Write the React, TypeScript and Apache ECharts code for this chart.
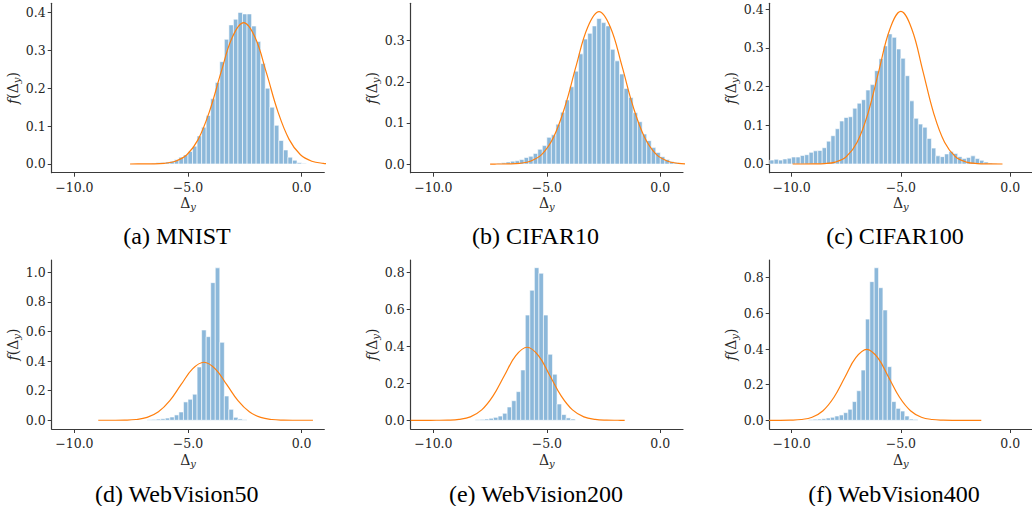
import React, { useEffect, useRef } from "react";
import * as echarts from "echarts";

// ---------------- data ----------------
const BIN_WIDTH = 0.2;

const X_RANGE = [-11, 1];
const X_TICKS = [-10, -5, 0];

// (a) MNIST
const aCenters = [-6.5, -6.3, -6.1, -5.9, -5.7, -5.5, -5.3, -5.1, -4.9, -4.7, -4.5, -4.3, -4.1, -3.9, -3.7, -3.5, -3.3, -3.1, -2.9, -2.7, -2.5, -2.3, -2.1, -1.9, -1.7, -1.5, -1.3, -1.1, -0.9, -0.7, -0.5, -0.3, -0.1, 0.1];
const aValues = [0.002, 0.003, 0.004, 0.005, 0.007, 0.011, 0.018, 0.024, 0.033, 0.047, 0.074, 0.097, 0.128, 0.172, 0.215, 0.27, 0.329, 0.367, 0.382, 0.4, 0.396, 0.396, 0.364, 0.323, 0.265, 0.2, 0.15, 0.102, 0.062, 0.037, 0.018, 0.01, 0.003, 0.001];
const aCurveX = [-7.55, -7.05, -6.55, -6.05, -5.55, -5.05, -4.55, -4.05, -3.55, -3.05, -2.55, -2.05, -1.55, -1.05, -0.55, -0.05, 0.45, 0.95, 1.45];
const aCurveY = [0.0, 0.0001, 0.0003, 0.0018, 0.0073, 0.0243, 0.065, 0.1395, 0.2409, 0.3343, 0.3728, 0.3343, 0.2409, 0.1395, 0.065, 0.0243, 0.0073, 0.0018, 0.0003];
const aYRange = [-0.023, 0.424];
const aYTicks = [0, 0.1, 0.2, 0.3, 0.4];

// (b) CIFAR10
const bCenters = [-7.1, -6.9, -6.7, -6.5, -6.3, -6.1, -5.9, -5.7, -5.5, -5.3, -5.1, -4.9, -4.7, -4.5, -4.3, -4.1, -3.9, -3.7, -3.5, -3.3, -3.1, -2.9, -2.7, -2.5, -2.3, -2.1, -1.9, -1.7, -1.5, -1.3, -1.1, -0.9, -0.7, -0.5, -0.3, -0.1, 0.1, 0.3, 0.5, 0.7];
const bValues = [0.002, 0.003, 0.005, 0.007, 0.008, 0.011, 0.016, 0.019, 0.026, 0.036, 0.045, 0.065, 0.071, 0.097, 0.126, 0.156, 0.188, 0.226, 0.268, 0.304, 0.318, 0.336, 0.354, 0.344, 0.336, 0.279, 0.251, 0.219, 0.184, 0.162, 0.125, 0.103, 0.073, 0.057, 0.04, 0.028, 0.018, 0.011, 0.0065, 0.003];
const bCurveX = [-7.5, -7.2, -6.7, -6.2, -5.7, -5.2, -4.7, -4.2, -3.7, -3.2, -2.7, -2.2, -1.7, -1.2, -0.7, -0.2, 0.3, 0.8, 1.3];
const bCurveY = [0.0, 0.0001, 0.0004, 0.0019, 0.0076, 0.0249, 0.0659, 0.1402, 0.2406, 0.3327, 0.3706, 0.3327, 0.2406, 0.1402, 0.0659, 0.0249, 0.0076, 0.0019, 0.0004];
const bYRange = [-0.021, 0.391];
const bYTicks = [0, 0.1, 0.2, 0.3];

// (c) CIFAR100
const cCenters = [-10.9, -10.7, -10.5, -10.3, -10.1, -9.9, -9.7, -9.5, -9.3, -9.1, -8.9, -8.7, -8.5, -8.3, -8.1, -7.9, -7.7, -7.5, -7.3, -7.1, -6.9, -6.7, -6.5, -6.3, -6.1, -5.9, -5.7, -5.5, -5.3, -5.1, -4.9, -4.7, -4.5, -4.3, -4.1, -3.9, -3.7, -3.5, -3.3, -3.1, -2.9, -2.7, -2.5, -2.3, -2.1, -1.9, -1.7, -1.5, -1.3, -1.1, -0.9, -0.7];
const cValues = [0.01, 0.012, 0.01, 0.013, 0.015, 0.018, 0.018, 0.022, 0.024, 0.03, 0.034, 0.035, 0.042, 0.059, 0.073, 0.091, 0.111, 0.12, 0.122, 0.144, 0.157, 0.166, 0.191, 0.205, 0.241, 0.272, 0.305, 0.336, 0.327, 0.297, 0.273, 0.228, 0.163, 0.118, 0.103, 0.095, 0.066, 0.041, 0.021, 0.019, 0.026, 0.032, 0.027, 0.019, 0.014, 0.017, 0.021, 0.014, 0.0095, 0.005, 0.0026, 0.001];
const cCurveX = [-9.95, -9.5, -9.0, -8.5, -8.0, -7.5, -7.0, -6.5, -6.0, -5.5, -5.0, -4.5, -4.0, -3.5, -3.0, -2.5, -2.0, -1.5, -1.0, -0.35];
const cCurveY = [0.0, 0.0, 0.0002, 0.001, 0.0049, 0.0187, 0.056, 0.1315, 0.2419, 0.3488, 0.394, 0.3488, 0.2419, 0.1315, 0.056, 0.0187, 0.0049, 0.001, 0.0002, 0.0];
const cYRange = [-0.0225, 0.415];
const cYTicks = [0, 0.1, 0.2, 0.3, 0.4];

// (d) WebVision50
const dCenters = [-6.7, -6.5, -6.3, -6.1, -5.9, -5.7, -5.5, -5.3, -5.1, -4.9, -4.7, -4.5, -4.3, -4.1, -3.9, -3.7, -3.5, -3.3, -3.1, -2.9, -2.7, -2.5];
const dValues = [0.004, 0.006, 0.008, 0.01, 0.015, 0.022, 0.036, 0.056, 0.124, 0.142, 0.176, 0.36, 0.61, 0.565, 0.93, 1.03, 0.527, 0.164, 0.074, 0.02, 0.009, 0.004];
const dCurveX = [-8.95, -8.3, -7.8, -7.3, -6.8, -6.3, -5.8, -5.3, -4.8, -4.3, -3.8, -3.3, -2.8, -2.3, -1.8, -1.3, -0.8, -0.3, 0.5];
const dCurveY = [0.0, 0.0002, 0.0011, 0.0051, 0.0192, 0.0569, 0.1324, 0.2419, 0.3475, 0.392, 0.3475, 0.2419, 0.1324, 0.0569, 0.0192, 0.0051, 0.0011, 0.0002, 0.0];
const dYRange = [-0.059, 1.083];
const dYTicks = [0, 0.2, 0.4, 0.6, 0.8, 1.0];

// (e) WebVision200
const eCenters = [-8.05, -7.85, -7.65, -7.45, -7.25, -7.05, -6.85, -6.65, -6.45, -6.25, -6.05, -5.85, -5.65, -5.45, -5.25, -5.05, -4.85, -4.65, -4.45, -4.25, -4.05, -3.85];
const eValues = [0.004, 0.005, 0.007, 0.011, 0.016, 0.023, 0.038, 0.072, 0.106, 0.155, 0.272, 0.569, 0.703, 0.825, 0.795, 0.569, 0.357, 0.249, 0.088, 0.031, 0.013, 0.007];
const eCurveX = [-11.0, -10.37, -9.87, -9.37, -8.87, -8.37, -7.87, -7.37, -6.87, -6.37, -5.87, -5.37, -4.87, -4.37, -3.87, -3.37, -2.87, -2.37, -1.87, -1.57];
const eCurveY = [0.0, 0.0, 0.0002, 0.001, 0.0049, 0.0188, 0.0561, 0.1318, 0.2425, 0.3497, 0.395, 0.3497, 0.2425, 0.1318, 0.0561, 0.0188, 0.0049, 0.001, 0.0002, 0.0];
const eYRange = [-0.047, 0.8665];
const eYTicks = [0, 0.2, 0.4, 0.6, 0.8];

// (f) WebVision400
const fCenters = [-9.12, -8.92, -8.72, -8.52, -8.32, -8.12, -7.92, -7.72, -7.52, -7.32, -7.12, -6.92, -6.72, -6.52, -6.32, -6.12, -5.92, -5.72, -5.52, -5.32, -5.12, -4.92, -4.72, -4.52, -4.32];
const fValues = [0.004, 0.006, 0.007, 0.009, 0.013, 0.017, 0.024, 0.03, 0.043, 0.062, 0.105, 0.166, 0.282, 0.568, 0.778, 0.856, 0.744, 0.619, 0.301, 0.105, 0.067, 0.052, 0.024, 0.007, 0.005];
const fCurveX = [-11.56, -10.56, -10.06, -9.56, -9.06, -8.56, -8.06, -7.56, -7.06, -6.56, -6.06, -5.56, -5.06, -4.56, -4.06, -3.56, -3.06, -2.56, -2.06, -1.32];
const fCurveY = [0.0, 0.0001, 0.0009, 0.0044, 0.0175, 0.0539, 0.1292, 0.2415, 0.3513, 0.398, 0.3513, 0.2415, 0.1292, 0.0539, 0.0175, 0.0044, 0.0009, 0.0001, 0.0, 0.0];
const fYRange = [-0.0488, 0.8995];
const fYTicks = [0, 0.2, 0.4, 0.6, 0.8];

const CAPTIONS = ["(a) MNIST", "(b) CIFAR10", "(c) CIFAR100", "(d) WebVision50", "(e) WebVision200", "(f) WebVision400"];

// ---------------- layout / style ----------------
const GRID_LAYOUT = [
  { left: 51.7, top: 3.3, width: 272.6, height: 169.4 },
  { left: 410.7, top: 3.3, width: 272.3, height: 169.4 },
  { left: 769.7, top: 3.3, width: 272.3, height: 169.4 },
  { left: 51.7, top: 260, width: 272.6, height: 169 },
  { left: 410.7, top: 260, width: 272.3, height: 169 },
  { left: 769.7, top: 260, width: 272.3, height: 169 },
];
const CAPTION_POS = [
  [177, 236],
  [535.5, 236],
  [895, 236],
  [176.7, 494],
  [536, 494],
  [894, 494],
];

const SERIF = "'DejaVu Serif', serif";
const CAPTION_FONT = "'Liberation Serif', 'Times New Roman', serif";
const AXIS_COLOR = "#3a3a3a";
const LABEL_COLOR = "#262626";
const BAR_COLOR = "#8cb8da";
const LINE_COLOR = "#ff7f0e";

const nameRich = {
  n: { fontFamily: SERIF, fontSize: 14, color: LABEL_COLOR, lineHeight: 17, verticalAlign: "middle" },
  i: { fontFamily: SERIF, fontSize: 14, fontStyle: "italic", color: LABEL_COLOR, lineHeight: 17, verticalAlign: "middle" },
  s: { fontFamily: SERIF, fontSize: 10, fontStyle: "italic", color: LABEL_COLOR, lineHeight: 11, verticalAlign: "bottom" },
};

const fmtX = (v: number) => (v < 0 ? "\u2212" : "") + Math.abs(v).toFixed(1);
const fmtY = (v: number) => v.toFixed(1);

export default function App() {
  const ref = useRef<HTMLDivElement>(null);

  useEffect(() => {
    if (!ref.current) return;
    const chart = echarts.init(ref.current, null, { renderer: "svg" });

    const panels = [
      { centers: aCenters, values: aValues, cx: aCurveX, cy: aCurveY, yr: aYRange, yt: aYTicks },
      { centers: bCenters, values: bValues, cx: bCurveX, cy: bCurveY, yr: bYRange, yt: bYTicks },
      { centers: cCenters, values: cValues, cx: cCurveX, cy: cCurveY, yr: cYRange, yt: cYTicks },
      { centers: dCenters, values: dValues, cx: dCurveX, cy: dCurveY, yr: dYRange, yt: dYTicks },
      { centers: eCenters, values: eValues, cx: eCurveX, cy: eCurveY, yr: eYRange, yt: eYTicks },
      { centers: fCenters, values: fValues, cx: fCurveX, cy: fCurveY, yr: fYRange, yt: fYTicks },
    ];

    const grid: any[] = [];
    const xAxis: any[] = [];
    const yAxis: any[] = [];
    const series: any[] = [];
    const graphic: any[] = [];

    panels.forEach((p, i) => {
      grid.push({ ...GRID_LAYOUT[i], containLabel: false });
      xAxis.push({
        type: "value",
        gridIndex: i,
        min: X_RANGE[0],
        max: X_RANGE[1],
        splitLine: { show: false },
        axisLine: { show: true, onZero: false, lineStyle: { color: AXIS_COLOR, width: 1.2 } },
        axisTick: { show: true, length: 4, customValues: X_TICKS, lineStyle: { color: AXIS_COLOR, width: 1 } },
        axisLabel: {
          customValues: X_TICKS,
          formatter: fmtX,
          fontFamily: SERIF,
          fontSize: 12.5,
          color: LABEL_COLOR,
          margin: 8,
        },
        name: "{n|\u0394}{s|y}",
        nameLocation: "middle",
        nameGap: 22,
        nameTextStyle: { rich: nameRich },
      });
      yAxis.push({
        type: "value",
        gridIndex: i,
        min: p.yr[0],
        max: p.yr[1],
        splitLine: { show: false },
        axisLine: { show: true, onZero: false, lineStyle: { color: AXIS_COLOR, width: 1.2 } },
        axisTick: { show: true, length: 4, customValues: p.yt, lineStyle: { color: AXIS_COLOR, width: 1 } },
        axisLabel: {
          customValues: p.yt,
          formatter: fmtY,
          fontFamily: SERIF,
          fontSize: 12.5,
          color: LABEL_COLOR,
          margin: 6,
        },
        name: "{i|f}{n|(\u0394}{s|y}{n|)}",
        nameLocation: "middle",
        nameRotate: 90,
        nameGap: 30,
        nameTextStyle: { rich: nameRich },
      });
      series.push({
        type: "custom",
        xAxisIndex: i,
        yAxisIndex: i,
        clip: true,
        data: p.centers.map((c, k) => [c, p.values[k]]),
        renderItem: (params: any, api: any) => {
          const c = api.value(0);
          const v = api.value(1);
          const p0 = api.coord([c - BIN_WIDTH / 2, v]);
          const p1 = api.coord([c + BIN_WIDTH / 2, 0]);
          return {
            type: "rect",
            shape: { x: p0[0], y: p0[1], width: p1[0] - p0[0], height: p1[1] - p0[1] },
            style: { fill: BAR_COLOR, stroke: "#ffffff", lineWidth: 0.6 },
          };
        },
        z: 2,
      });
      series.push({
        type: "line",
        xAxisIndex: i,
        yAxisIndex: i,
        data: p.cx.map((x, k) => [x, p.cy[k]]),
        smooth: 0.4,
        showSymbol: false,
        symbol: "none",
        clip: true,
        lineStyle: { color: LINE_COLOR, width: 1.2 },
        z: 3,
      });
      graphic.push({
        type: "text",
        x: CAPTION_POS[i][0],
        y: CAPTION_POS[i][1],
        style: {
          text: CAPTIONS[i],
          fontFamily: CAPTION_FONT,
          fontSize: 24,
          fill: "#000000",
          textAlign: "center",
          textVerticalAlign: "middle",
        },
      });
    });

    chart.setOption({
      animation: false,
      backgroundColor: "#ffffff",
      grid,
      xAxis,
      yAxis,
      series,
      graphic,
    });

    return () => chart.dispose();
  }, []);

  return (
    <div
      ref={ref}
      style={{ position: "fixed", left: 0, top: 0, width: 1032, height: 506 }}
    />
  );
}
